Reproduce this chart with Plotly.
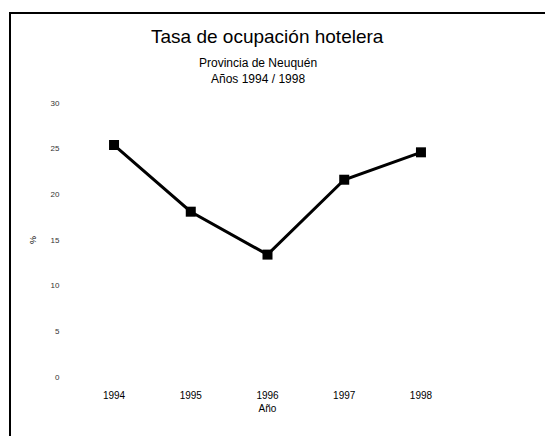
import plotly.graph_objects as go

years = [1994, 1995, 1996, 1997, 1998]
ocupacion = [25.4, 18.1, 13.4, 21.6, 24.6]
y_ticks = [0, 5, 10, 15, 20, 25, 30]

W, H = 545, 436
# plot area in screen pixels: x 68..467, y 103..377
ml, mt = 68, 103
mr = W - 467
mb = H - 377
pw, ph = W - ml - mr, H - mt - mb

def px(xs):
    return (xs - ml) / pw

def py(ys):
    return (H - mb - ys) / ph

fig = go.Figure()
fig.add_trace(go.Scatter(
    x=years, y=ocupacion, mode="lines+markers",
    line=dict(color="black", width=3),
    marker=dict(symbol="square", size=10, color="black"),
    cliponaxis=False, showlegend=False,
))

fig.update_layout(
    width=W, height=H,
    margin=dict(l=ml, r=mr, t=mt, b=mb),
    paper_bgcolor="white", plot_bgcolor="white",
    font=dict(family="Liberation Sans, Arial", color="black"),
    xaxis=dict(range=[1993.4, 1998.6], tickvals=years, showgrid=False,
               zeroline=False, showline=False, ticks="outside", ticklen=9,
               tickcolor="rgba(0,0,0,0)",
               tickfont=dict(size=10), title=dict(text="Año", font=dict(size=10), standoff=4)),
    yaxis=dict(range=[0, 30], tickvals=y_ticks, showgrid=False,
               zeroline=False, showline=False, ticks="outside", ticklen=6,
               tickcolor="rgba(0,0,0,0)",
               tickfont=dict(size=8, color="#333"),
               title=dict(text="%", font=dict(size=9), standoff=12)),
    annotations=[
        dict(text="Tasa de ocupación hotelera", xref="paper", yref="paper",
             x=px(267), y=py(36), xanchor="center", yanchor="middle",
             showarrow=False, font=dict(size=19)),
        dict(text="Provincia de Neuquén<br>Años 1994 / 1998", xref="paper", yref="paper",
             x=px(258), y=py(71), xanchor="center", yanchor="middle",
             showarrow=False, font=dict(size=12)),
    ],
    shapes=[
        dict(type="rect", xref="paper", yref="paper", x0=px(10), x1=px(700),
             y0=py(13), y1=py(600), line=dict(color="black", width=2),
             fillcolor="rgba(0,0,0,0)", layer="below"),
    ],
)

fig.write_html(
    "out.html",
    config={"displayModeBar": False},
    post_script="document.body.style.margin='0';document.body.style.overflow='hidden';",
)
